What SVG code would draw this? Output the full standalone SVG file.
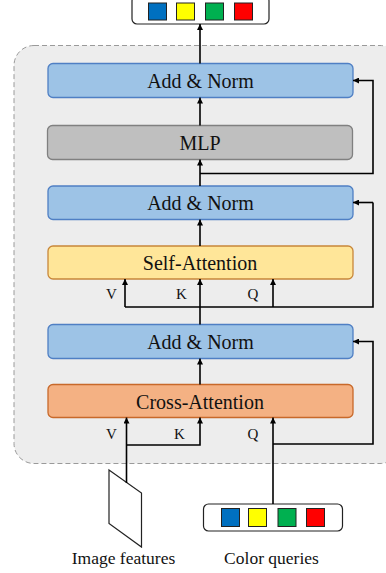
<svg xmlns="http://www.w3.org/2000/svg" width="386" height="573" viewBox="0 0 386 573">
<defs>
<marker id="ah" viewBox="0 0 10 10" refX="10" refY="5" markerWidth="6" markerHeight="6" markerUnits="userSpaceOnUse" orient="auto">
<path d="M0,0 L10,5 L0,10 z" fill="#000"/>
</marker>
</defs>
<style>
.box{stroke-width:1.3}
.an{fill:#9dc3e6;stroke:#4f7fc4}
.mlp{fill:#bfbfbf;stroke:#808080}
.sa{fill:#ffe699;stroke:#c8873a}
.ca{fill:#f4b183;stroke:#c8692a}
.lbl{font-family:"Liberation Serif","Times New Roman",serif;font-size:20px;fill:#111;text-anchor:middle}
.sm{font-family:"Liberation Serif","Times New Roman",serif;font-size:15px;fill:#111;text-anchor:middle}
.cap{font-family:"Liberation Serif","Times New Roman",serif;font-size:17.5px;fill:#111;text-anchor:middle}
.ln{fill:none;stroke:#000;stroke-width:1.6}
.arr{fill:none;stroke:#000;stroke-width:1.6;marker-end:url(#ah)}
.sq{stroke:#222;stroke-width:1}
.pal{fill:#fff;stroke:#222;stroke-width:1.2}
</style>
<rect id="container" x="14" y="45.5" width="386" height="418" rx="20" fill="#ededed" stroke="#9a9a9a" stroke-width="1" stroke-dasharray="5,3"/>

<g id="output-colors">
<rect class="pal" x="132" y="-4" width="137" height="28" rx="5"/>
<rect class="sq" x="148.5" y="3" width="18" height="17" fill="#0070c0"/>
<rect class="sq" x="176.5" y="3" width="18" height="17" fill="#ffff00"/>
<rect class="sq" x="205.5" y="3" width="18" height="17" fill="#00b050"/>
<rect class="sq" x="234.5" y="3" width="18" height="17" fill="#ff0000"/>
</g>

<g id="addnorm3">
<rect class="box an" x="48" y="63.5" width="305" height="34" rx="5"/>
<text class="lbl" x="200.5" y="87.5">Add &amp; Norm</text>
</g>
<g id="mlp">
<rect class="box mlp" x="47.5" y="125.5" width="305" height="34" rx="5"/>
<text class="lbl" x="200" y="149.5">MLP</text>
</g>
<g id="addnorm2">
<rect class="box an" x="48" y="186" width="305" height="33.5" rx="5"/>
<text class="lbl" x="200.5" y="210">Add &amp; Norm</text>
</g>
<g id="self-attention">
<rect class="box sa" x="48" y="246" width="305" height="33" rx="5"/>
<text class="lbl" x="200" y="270">Self-Attention</text>
</g>
<g id="addnorm1">
<rect class="box an" x="48" y="324.5" width="305" height="34" rx="5"/>
<text class="lbl" x="200.5" y="348.5">Add &amp; Norm</text>
</g>
<g id="cross-attention">
<rect class="box ca" x="48" y="384.5" width="305" height="33" rx="5"/>
<text class="lbl" x="200" y="408.5">Cross-Attention</text>
</g>

<g id="image-features">
<polygon class="pal" points="109,470 141.5,493 141.5,547 109,523.5"/>
<text class="cap" x="123.5" y="563.5">Image features</text>
</g>
<g id="color-queries">
<rect class="pal" x="203.5" y="504" width="139" height="27" rx="5"/>
<rect class="sq" x="221.5" y="508.5" width="18" height="18" fill="#0070c0"/>
<rect class="sq" x="248.5" y="508.5" width="18" height="18" fill="#ffff00"/>
<rect class="sq" x="278" y="508.5" width="18" height="18" fill="#00b050"/>
<rect class="sq" x="306.5" y="508.5" width="18" height="18" fill="#ff0000"/>
<text class="cap" x="271.5" y="563.5">Color queries</text>
</g>

<g id="connectors">
<!-- top output -->
<path class="arr" d="M200,63.5 V24"/>
<!-- MLP to AddNorm3 -->
<path class="arr" d="M200,125.5 V97.5"/>
<!-- AddNorm2 to MLP with residual -->
<path class="arr" d="M200,186 V159.5"/>
<path class="arr" d="M200,173.5 H373 V80.5 H353"/>
<!-- SA to AddNorm2 -->
<path class="arr" d="M200,246 V219.5"/>
<!-- AddNorm1 to SA inputs -->
<path class="arr" d="M200,324.5 V279"/>
<path class="ln" d="M125,307 H373 V202.5"/>
<path class="arr" d="M373,202.5 H353"/>
<path class="arr" d="M125,307 V279"/>
<path class="arr" d="M273,307 V279"/>
<!-- CA to AddNorm1 -->
<path class="arr" d="M200,384.5 V358.5"/>
<!-- CA inputs -->
<path class="arr" d="M126.5,483 V417.5"/>
<path class="arr" d="M126.5,445 H200 V417.5"/>
<path class="arr" d="M273,504 V417.5"/>
<path class="arr" d="M273,444 H373 V341.5 H353"/>
</g>

<g id="labels">
<text class="sm" x="111.5" y="298.5">V</text>
<text class="sm" x="181.5" y="298.5">K</text>
<text class="sm" x="253" y="298.5">Q</text>
<text class="sm" x="111.5" y="438.5">V</text>
<text class="sm" x="179.5" y="438.5">K</text>
<text class="sm" x="253" y="438.5">Q</text>
</g>
</svg>
